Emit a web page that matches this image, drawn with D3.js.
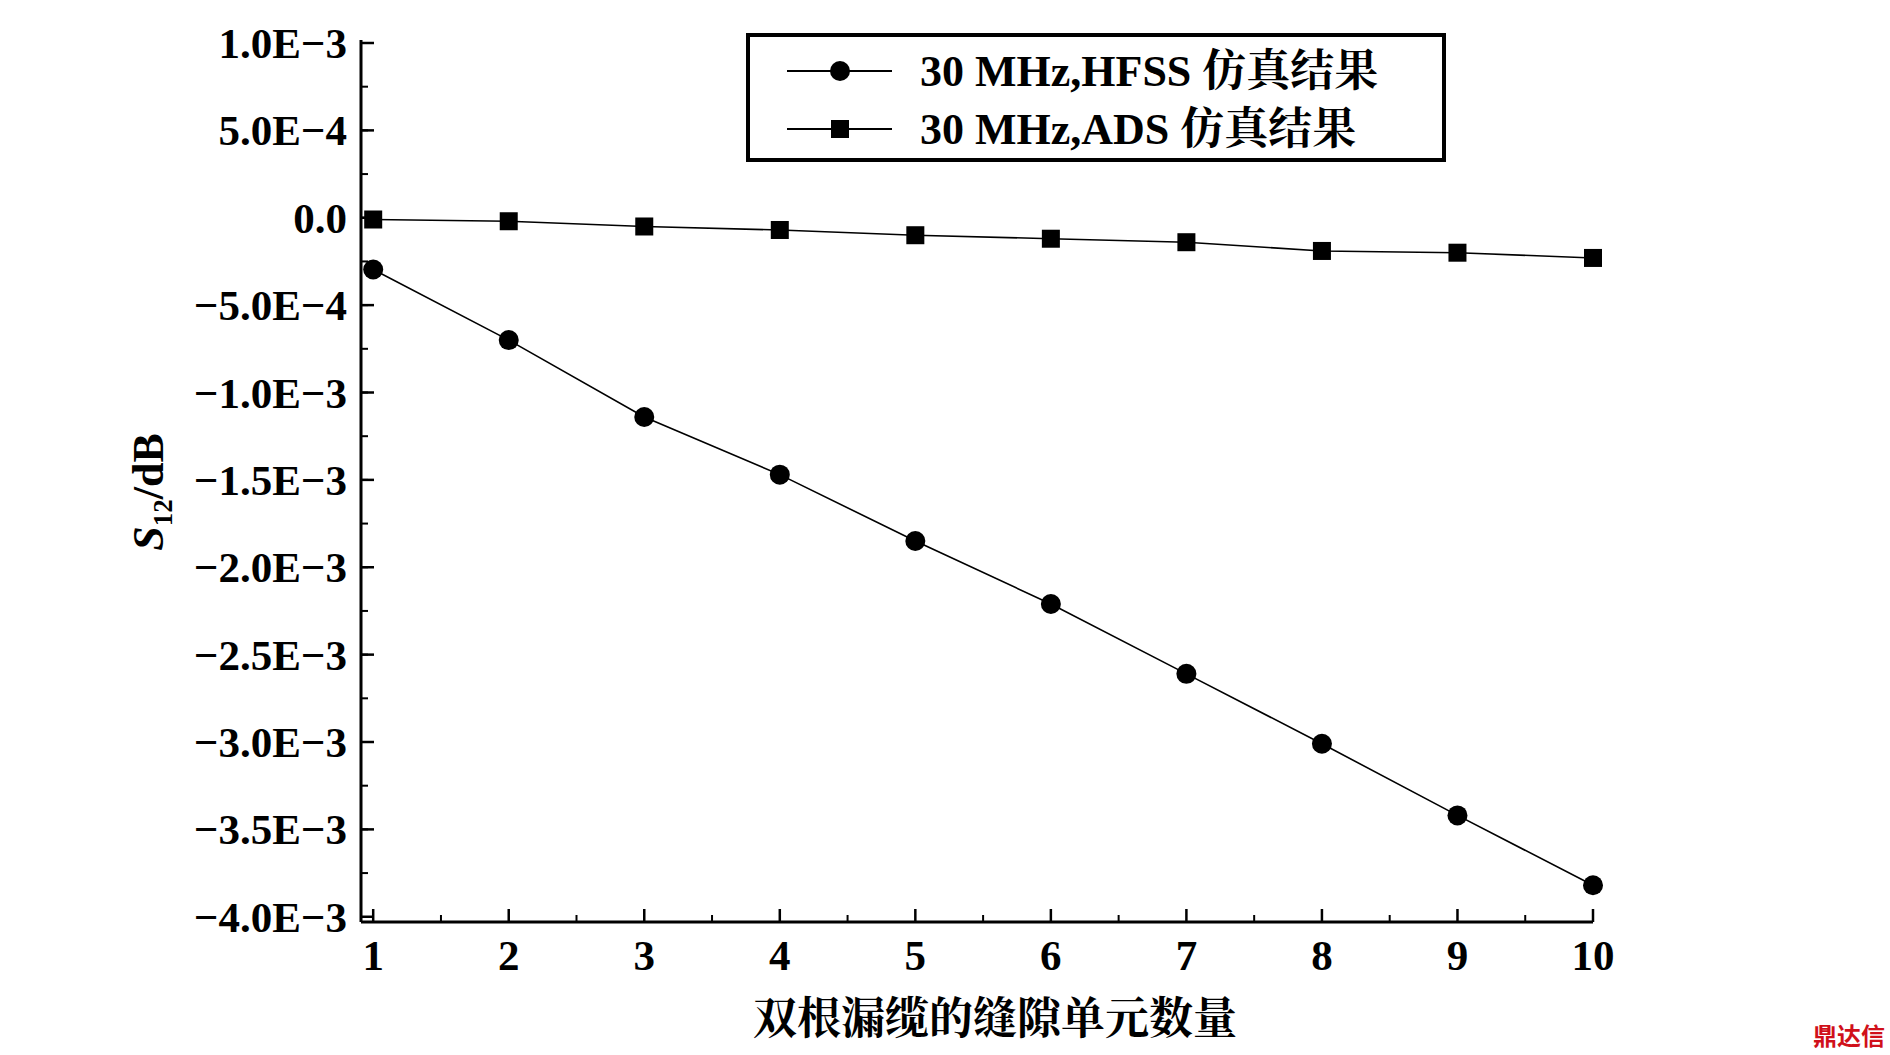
<!DOCTYPE html>
<html><head><meta charset="utf-8">
<script src="https://cdn.jsdelivr.net/npm/d3@7"></script>
<style>body{margin:0;background:#fff}svg{display:block}</style>
</head><body>
<script>
const counts = [1, 2, 3, 4, 5, 6, 7, 8, 9, 10];
const hfss = [-0.296e-3, -0.70e-3, -1.14e-3, -1.47e-3, -1.85e-3, -2.21e-3, -2.61e-3, -3.01e-3, -3.42e-3, -3.82e-3];
const ads = [-0.01e-3, -0.02e-3, -0.05e-3, -0.07e-3, -0.10e-3, -0.12e-3, -0.14e-3, -0.19e-3, -0.20e-3, -0.23e-3];
const yTicks = [1e-3, 5e-4, 0, -5e-4, -1e-3, -1.5e-3, -2e-3, -2.5e-3, -3e-3, -3.5e-3, -4e-3];
const yTickLabels = ["1.0E\u22123", "5.0E\u22124", "0.0", "\u22125.0E\u22124", "\u22121.0E\u22123", "\u22121.5E\u22123",
  "\u22122.0E\u22123", "\u22122.5E\u22123", "\u22123.0E\u22123", "\u22123.5E\u22123", "\u22124.0E\u22123"];
const legendLabels = ["30 MHz,HFSS 仿真结果", "30 MHz,ADS 仿真结果"];

const W = 1890, H = 1055;
const font = "'Liberation Serif', 'Noto Serif CJK SC', 'Noto Sans CJK SC', serif";
const svg = d3.select("body").append("svg").attr("width", W).attr("height", H);

const x = d3.scaleLinear().domain([0.91, 10]).range([361, 1593]);
const y = d3.scaleLinear().domain([1e-3, -4.03e-3]).range([43, 922]);

// y axis
const yAxis = svg.append("g").attr("transform", `translate(${x.range()[0]},0)`);
yAxis.append("line").attr("y1", 40).attr("y2", 922).attr("stroke", "#000").attr("stroke-width", 3);
const yMinor = d3.range(-3.75e-3, 1e-3, 2.5e-4);
yAxis.selectAll(".ym").data(yMinor).join("line")
  .attr("x1", 0).attr("x2", 7).attr("y1", d => y(d)).attr("y2", d => y(d)).attr("stroke", "#000").attr("stroke-width", 2);
yAxis.selectAll(".yM").data(yTicks).join("line")
  .attr("x1", 0).attr("x2", 13).attr("y1", d => y(d)).attr("y2", d => y(d)).attr("stroke", "#000").attr("stroke-width", 2.5);
yAxis.selectAll("text").data(yTicks).join("text")
  .attr("x", -14).attr("y", d => y(d)).attr("dy", "0.35em").attr("text-anchor", "end")
  .attr("font-family", font).attr("font-weight", "bold").attr("font-size", 43)
  .text((d, i) => yTickLabels[i]);

// x axis
const xAxis = svg.append("g").attr("transform", `translate(0,${y.range()[1]})`);
xAxis.append("line").attr("x1", x.range()[0]).attr("x2", x(10)).attr("stroke", "#000").attr("stroke-width", 3);
xAxis.selectAll(".xm").data(d3.range(1.5, 10, 1)).join("line")
  .attr("x1", d => x(d)).attr("x2", d => x(d)).attr("y1", 0).attr("y2", -7).attr("stroke", "#000").attr("stroke-width", 2);
xAxis.selectAll(".xM").data(counts).join("line")
  .attr("x1", d => x(d)).attr("x2", d => x(d)).attr("y1", 0).attr("y2", -13).attr("stroke", "#000").attr("stroke-width", 2.5);
xAxis.selectAll("text").data(counts).join("text")
  .attr("x", d => x(d)).attr("y", 48).attr("text-anchor", "middle")
  .attr("font-family", font).attr("font-weight", "bold").attr("font-size", 43)
  .text(d => d);

// labels
svg.append("text").attr("x", 995).attr("y", 1034).attr("text-anchor", "middle")
  .attr("font-family", font).attr("font-weight", "bold").attr("font-size", 44).text("双根漏缆的缝隙单元数量");
const yl = svg.append("text").attr("transform", "translate(163,492) rotate(-90)").attr("text-anchor", "middle")
  .attr("font-family", font).attr("font-weight", "bold").attr("font-size", 44);
yl.append("tspan").attr("font-style", "italic").text("S");
yl.append("tspan").attr("font-size", 27).attr("dy", 9).text("12");
yl.append("tspan").attr("dy", -9).text("/dB");

// series
const line = d3.line().x(d => x(d[0])).y(d => y(d[1]));
const series = [hfss, ads].map(v => counts.map((c, i) => [c, v[i]]));
series.forEach((pts, k) => {
  svg.append("path").attr("d", line(pts)).attr("fill", "none").attr("stroke", "#000").attr("stroke-width", 1.6);
  const g = svg.append("g");
  if (k === 0) {
    g.selectAll("circle").data(pts).join("circle")
      .attr("cx", d => x(d[0])).attr("cy", d => y(d[1])).attr("r", 10).attr("fill", "#000");
  } else {
    g.selectAll("rect").data(pts).join("rect")
      .attr("x", d => x(d[0]) - 9).attr("y", d => y(d[1]) - 9).attr("width", 18).attr("height", 18).attr("fill", "#000");
  }
});

// legend
const lg = svg.append("g");
lg.append("rect").attr("x", 748).attr("y", 35).attr("width", 696).attr("height", 125)
  .attr("fill", "#fff").attr("stroke", "#000").attr("stroke-width", 4);
legendLabels.forEach((t, i) => {
  const ly = 71 + i * 58;
  lg.append("line").attr("x1", 787).attr("x2", 892).attr("y1", ly).attr("y2", ly).attr("stroke", "#000").attr("stroke-width", 2);
  if (i === 0) lg.append("circle").attr("cx", 840).attr("cy", ly).attr("r", 10).attr("fill", "#000");
  else lg.append("rect").attr("x", 831).attr("y", ly - 9).attr("width", 18).attr("height", 18).attr("fill", "#000");
  lg.append("text").attr("x", 920).attr("y", ly).attr("dy", "0.35em")
    .attr("font-family", font).attr("font-weight", "bold").attr("font-size", 44).text(t);
});

// watermark
svg.append("text").attr("x", 1885).attr("y", 1045).attr("text-anchor", "end")
  .attr("font-family", "'Noto Sans CJK SC', sans-serif").attr("font-weight", "bold").attr("font-size", 24)
  .attr("fill", "#d0101a").text("鼎达信");
</script>
</body></html>
